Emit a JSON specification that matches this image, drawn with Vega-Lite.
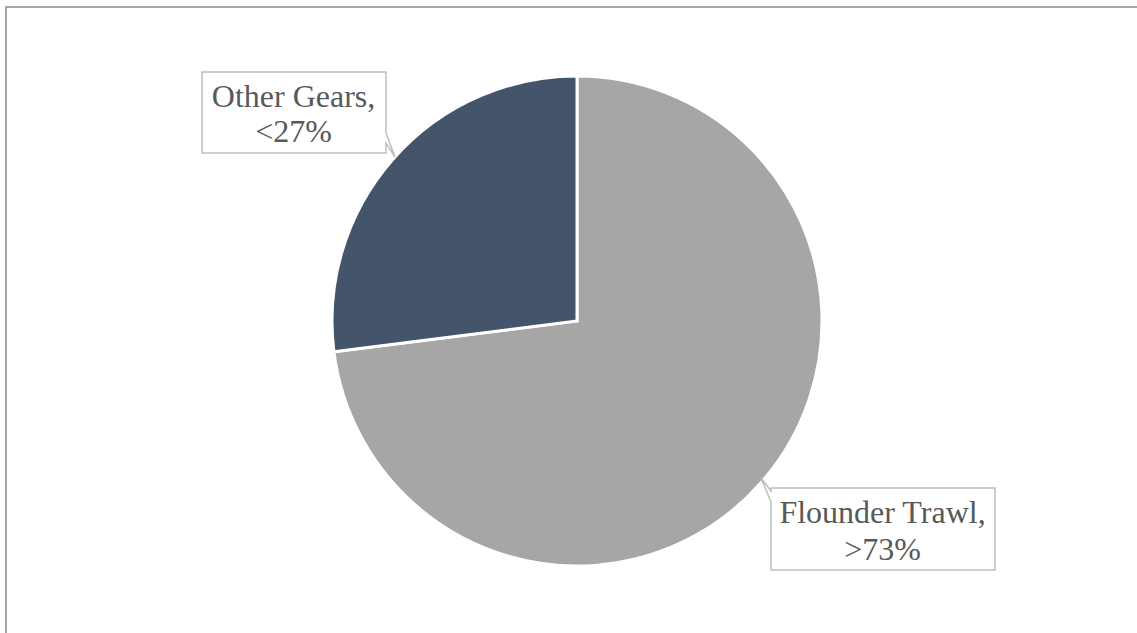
{
  "$schema": "https://vega.github.io/schema/vega-lite/v6.json",
  "autosize": {"type": "none"},
  "width": 1142,
  "height": 628,
  "padding": {"left": 6, "top": 7, "right": 0, "bottom": 0},
  "background": "white",
  "config": {"view": {"stroke": null}},
  "data": {
    "values": [
      {"gear": "Flounder Trawl", "share": 73, "label": "Flounder Trawl,\n>73%"},
      {"gear": "Other Gears", "share": 27, "label": "Other Gears,\n<27%"}
    ]
  },
  "layer": [
    {
      "transform": [{"filter": "datum.gear === 'Other Gears'"}],
      "mark": {"type": "rect", "fill": null, "fillOpacity": 0, "stroke": "#898989", "strokeWidth": 1.5},
      "encoding": {}
    },
    {
      "mark": {"type": "arc", "outerRadius": 245, "stroke": "white", "strokeWidth": 3},
      "encoding": {
        "theta": {"field": "share", "type": "quantitative", "stack": true},
        "order": {"field": "share", "sort": "descending"},
        "color": {
          "field": "gear",
          "type": "nominal",
          "scale": {"domain": ["Flounder Trawl", "Other Gears"], "range": ["#A6A6A6", "#44546A"]},
          "legend": null
        }
      }
    },
    {
      "transform": [{"filter": "datum.gear === 'Other Gears'"}],
      "mark": {
        "type": "point",
        "shape": "M-3.75,-2.49 L-1.91,-2.49 L-1.91,-1.88 L-1.82,-1.64 L-1.91,-1.78 L-1.91,-1.68 L-3.75,-1.68 Z",
        "size": 40000,
        "filled": true,
        "fill": "white",
        "stroke": "#BFBFBF",
        "strokeWidth": 1.5,
        "opacity": 1
      },
      "encoding": {}
    },
    {
      "transform": [{"filter": "datum.gear === 'Flounder Trawl'"}],
      "mark": {
        "type": "point",
        "shape": "M1.94,1.67 L4.18,1.67 L4.18,2.49 L1.94,2.49 L1.94,1.81 L1.84,1.57 L1.94,1.70 Z",
        "size": 40000,
        "filled": true,
        "fill": "white",
        "stroke": "#BFBFBF",
        "strokeWidth": 1.5,
        "opacity": 1
      },
      "encoding": {}
    },
    {
      "transform": [{"filter": "datum.gear === 'Other Gears'"}],
      "mark": {
        "type": "text",
        "lineBreak": "\n",
        "font": "Liberation Serif",
        "fontSize": 32,
        "lineHeight": 35,
        "color": "#595959",
        "align": "center",
        "baseline": "alphabetic",
        "dx": -283.5,
        "dy": -214
      },
      "encoding": {"text": {"field": "label"}}
    },
    {
      "transform": [{"filter": "datum.gear === 'Flounder Trawl'"}],
      "mark": {
        "type": "text",
        "lineBreak": "\n",
        "font": "Liberation Serif",
        "fontSize": 32,
        "lineHeight": 37,
        "color": "#595959",
        "align": "center",
        "baseline": "alphabetic",
        "dx": 305.5,
        "dy": 202
      },
      "encoding": {"text": {"field": "label"}}
    }
  ]
}
